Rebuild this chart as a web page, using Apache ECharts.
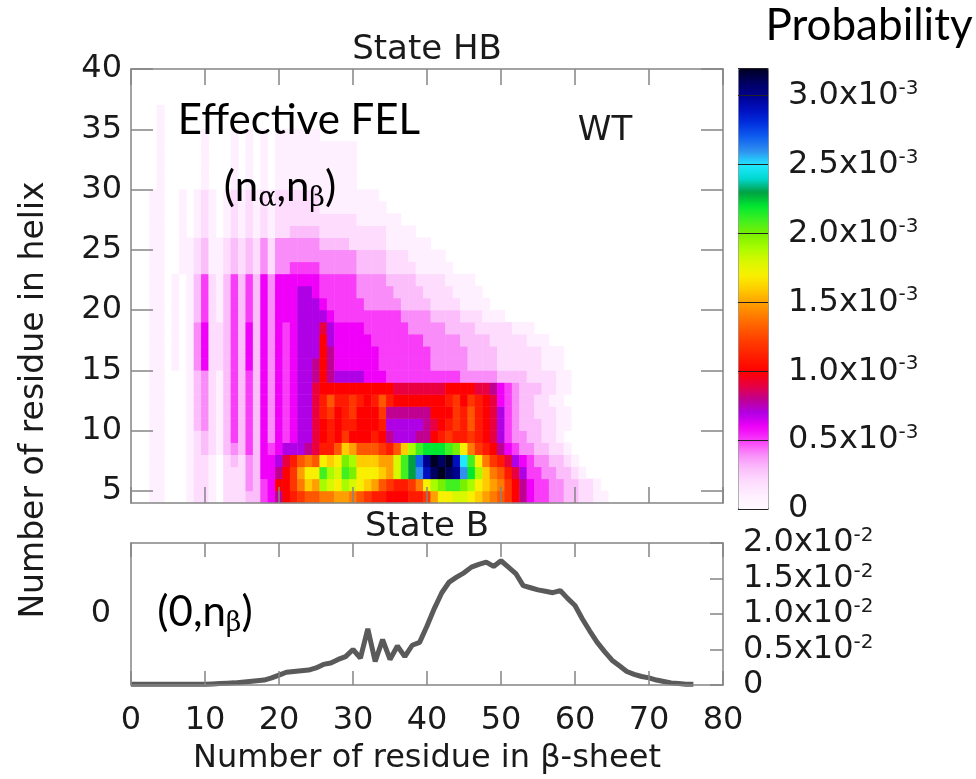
<!DOCTYPE html>
<html><head><meta charset="utf-8">
<script src="https://cdn.jsdelivr.net/npm/echarts@6/dist/echarts.min.js"></script>
<style>html,body{margin:0;padding:0;background:#fff}#c{width:976px;height:779px}</style>
</head><body><div id="c"></div>
<script>
// ---------- tick labels ----------
const betaTicks = [0, 10, 20, 30, 40, 50, 60, 70, 80];
const helixTicks = [5, 10, 15, 20, 25, 30, 35, 40];
const stateBTicks = [0];               // left label of the State B panel (n_alpha = 0)
// ---------- State HB: probability (units of 1e-4), one array per helix row, index = n_beta ----------
const helix04 = [0,0,0,1,1,0,0,0,1,2,2,1,0,2,2,2,3,3,5,6,8,10,11,12,13,13,14,14,15,15,14,13,12,11,11,10,10,10,11,11,12,15,17,17,18,18,17,16,15,14,13,12,10,8,6,5,5,4,4,3,3,2,2,1,1];
const helix05 = [0,0,0,1,1,0,0,0,1,2,2,1,0,2,2,2,4,3,5,6,10,10,12,14,16,15,19,18,17,19,18,17,16,15,13,12,11,11,12,14,17,19,20,21,21,20,19,17,16,15,14,12,10,8,6,5,5,4,4,3,3,2,2,1];
const helix06 = [0,0,0,1,1,0,0,0,1,2,2,1,0,2,2,2,4,3,6,6,8,10,12,15,17,17,21,19,18,21,20,17,17,17,16,15,18,21,23,26,29,31,32,31,30,26,22,19,16,14,13,11,9,7,5,5,4,4,3,3,2,1];
const helix07 = [0,0,0,1,1,0,0,0,1,2,2,1,0,2,3,2,4,3,6,6,7,9,11,13,14,13,17,16,17,20,19,16,16,16,15,15,18,21,23,27,30,32,31,32,29,25,21,17,14,12,11,9,7,6,5,4,4,3,3,2,1];
const helix08 = [0,0,0,1,1,0,0,0,1,2,3,2,1,3,4,3,5,3,6,5,6,7,7,7,8,9,11,11,13,16,15,13,13,13,12,11,13,16,19,21,22,22,22,21,20,17,14,12,11,10,8,6,5,4,4,3,3,2,2,1];
const helix09 = [0,0,0,1,1,0,0,0,1,2,3,2,1,3,5,3,5,3,6,4,6,5,6,7,7,9,10,11,10,12,10,10,10,11,10,8,7,7,7,8,8,10,11,12,11,11,12,11,10,9,7,5,4,4,3,3,2,2,1];
const helix10 = [0,0,0,1,1,0,0,0,1,3,4,2,1,3,5,3,5,3,6,4,6,5,6,7,7,9,10,11,10,11,11,10,10,10,11,7,7,7,7,7,8,9,10,11,12,11,13,11,10,9,7,5,4,3,3,3,2,2,1,1];
const helix11 = [0,0,0,1,1,0,0,0,1,3,4,2,1,3,5,3,5,3,6,4,6,5,6,7,7,9,11,12,10,11,12,10,10,10,12,8,8,8,8,8,8,10,10,10,12,11,13,11,10,9,7,5,4,3,3,2,2,2,1,1];
const helix12 = [0,0,0,1,1,0,0,0,1,3,4,2,1,3,5,3,5,3,6,4,6,5,6,7,7,9,11,13,11,11,12,11,10,11,13,11,10,10,10,10,10,10,10,11,12,10,12,11,10,9,6,5,4,3,3,2,2,1,1];
const helix13 = [0,0,0,1,1,0,0,0,1,3,4,2,1,3,5,3,5,3,6,4,6,5,6,7,7,9,10,10,10,10,10,10,10,10,10,10,9,9,9,9,9,9,9,10,10,10,10,9,9,8,6,5,4,3,3,3,2,2,1,1];
const helix14 = [0,0,0,1,1,0,0,0,1,3,4,2,1,3,5,3,5,3,6,4,6,5,6,7,7,8,10,8,7,7,7,7,6,6,6,5,5,5,5,5,5,5,5,5,5,4,4,4,4,4,3,3,3,3,2,2,2,2,1,1];
const helix15 = [0,0,0,1,1,0,1,0,1,4,6,2,2,3,5,3,6,3,6,4,6,5,6,7,7,8,10,8,6,6,6,6,6,6,5,5,5,5,5,5,5,4,4,4,4,4,3,3,3,3,2,2,2,2,2,2,1,1,1];
const helix16 = [0,0,0,1,1,0,1,0,1,4,6,2,2,3,5,3,6,3,6,4,6,5,6,7,7,7,10,8,6,6,6,6,6,6,5,5,5,5,5,5,5,4,4,4,4,4,3,3,3,3,2,2,2,2,2,2,1,1,1];
const helix17 = [0,0,0,1,1,0,1,0,1,4,6,2,2,3,5,3,6,3,6,4,6,5,6,7,7,7,10,7,6,6,6,6,6,5,5,5,5,5,5,5,4,4,4,4,4,3,3,3,3,2,2,2,2,2,1,1,1];
const helix18 = [0,0,0,1,1,0,1,0,1,4,6,2,2,3,5,3,6,3,6,4,6,5,6,7,7,7,9,7,6,6,6,6,5,5,5,5,5,5,4,4,4,4,4,3,3,3,3,2,2,2,2,2,1,1,1];
const helix19 = [0,0,0,1,1,0,1,0,1,3,5,2,1,3,5,3,5,3,6,4,6,6,6,7,7,7,7,6,5,5,5,5,5,5,5,5,5,4,4,4,4,3,3,3,3,2,2,2,1,1,1];
const helix20 = [0,0,0,1,1,0,1,0,1,3,5,2,1,3,5,3,5,3,6,4,6,6,6,7,7,7,6,5,5,5,5,5,4,4,4,4,4,3,3,3,3,2,2,2,2,1,1,1,1];
const helix21 = [0,0,0,1,1,0,1,0,1,3,5,2,1,3,5,3,5,3,6,4,6,6,6,7,7,6,5,5,5,5,5,4,4,4,4,4,3,3,3,3,2,2,2,2,1,1,1,1];
const helix22 = [0,0,0,1,1,0,1,0,1,3,5,2,1,3,5,3,5,3,6,4,6,6,6,6,6,6,5,5,5,5,5,4,4,4,4,3,3,3,3,2,2,2,2,1,1,1,1];
const helix23 = [0,0,0,1,1,0,0,1,1,2,3,1,1,2,3,2,3,2,4,2,4,4,5,5,5,5,4,4,4,4,4,3,3,3,3,2,2,2,2,1,1,1,1,1];
const helix24 = [0,0,0,1,1,0,0,1,1,2,3,1,1,2,3,2,3,2,4,2,4,4,4,4,4,4,4,4,4,4,4,3,3,3,3,2,2,2,1,1,1,1,1];
const helix25 = [0,0,0,1,1,0,0,1,1,2,3,1,1,2,3,2,3,2,4,2,4,4,4,4,4,4,3,3,3,3,2,2,2,2,2,1,1,1,1,1,1];
const helix26 = [0,0,0,1,1,0,0,1,0,1,2,1,0,1,2,1,2,1,2,1,2,2,3,3,3,3,2,2,2,2,2,2,2,2,2,1,1,1,1];
const helix27 = [0,0,0,1,1,0,0,1,0,1,2,1,0,1,2,1,2,1,2,1,2,2,2,2,2,2,2,2,2,2,2,1,1,1,1,1,1];
const helix28 = [0,0,0,1,1,0,0,1,0,1,2,1,0,1,2,1,2,1,2,1,2,2,2,2,2,2,1,1,1,1,1,1,1,1,1];
const helix29 = [0,0,0,1,1,0,0,1,0,1,2,1,0,1,2,1,2,1,2,1,2,2,2,2,2,2,1,1,1,1,1,1,1,1];
const helix30 = [0,0,0,0,1,0,0,0,0,0,1,0,0,0,1,0,1,0,1,0,1,1,1,1,1,1,1,1,1,1,1];
const helix31 = [0,0,0,0,1,0,0,0,0,0,1,0,0,0,1,0,1,0,1,0,1,1,1,1,1,1,1,1,1,1,1];
const helix32 = [0,0,0,0,1,0,0,0,0,0,1,0,0,0,1,0,1,0,1,0,1,1,1,1,1,1,1,1,1,1,1];
const helix33 = [0,0,0,0,1,0,0,0,0,0,1,0,0,0,1,0,1,0,1,0,1,1,1,1,1,1,1,1,1,1,1];
const helix34 = [0,0,0,0,1,0,0,0,0,0,1,0,0,0,1,0,1,0,1,0,1,1,1,1,1,1];
const helix35 = [0,0,0,0,1];
const helix36 = [0,0,0,0,1];
const helix37 = [];
const helix38 = [];
const helix39 = [];
// ---------- State B: probability (units of 1e-2), index = n_beta 0..76 ----------
const stateBProb = [0.01,0.01,0.01,0.01,0.01,0.01,0.01,0.01,0.01,0.01,
  0.01,0.015,0.02,0.025,0.03,0.04,0.05,0.06,0.07,0.10,
  0.14,0.18,0.19,0.20,0.21,0.24,0.29,0.31,0.36,0.40,
  0.50,0.38,0.79,0.33,0.64,0.36,0.55,0.40,0.56,0.60,
  0.83,1.08,1.30,1.45,1.52,1.58,1.66,1.70,1.73,1.67,
  1.75,1.66,1.57,1.40,1.37,1.34,1.32,1.30,1.33,1.22,
  1.12,0.93,0.76,0.60,0.47,0.35,0.27,0.19,0.15,0.12,
  0.10,0.07,0.05,0.03,0.02,0.01,0.01];

// ---------- build ----------
const helixRows = [helix04,helix05,helix06,helix07,helix08,helix09,helix10,helix11,helix12,helix13,helix14,helix15,
  helix16,helix17,helix18,helix19,helix20,helix21,helix22,helix23,helix24,helix25,helix26,helix27,helix28,helix29,
  helix30,helix31,helix32,helix33,helix34,helix35,helix36,helix37,helix38,helix39];
const betaCats = []; for (let i = 0; i <= 80; i++) betaCats.push(String(i));
const helixCats = helixRows.map((r, j) => String(4 + j));
const heatData = [];
helixRows.forEach((row, j) => row.forEach((v, i) => { if (v > 0) heatData.push([i, j, v]); }));
const lineData = stateBProb.map((v, i) => [i, v]);

const palette = ['#fffaff','#fff0ff','#fddcfd','#fbbefb','#f98cf9','#f83cf8','#f000f8','#b000e6','#c00090','#e80040',
  '#ff0000','#ff1a00','#ff3600','#ff5600','#ff7a00','#ffa000','#ffcc00','#f8f000','#d8f800','#a8fc00',
  '#78f000','#40f020','#00e830','#00a040','#00d8d0','#20e8ff','#3090f0','#1060f0','#0030e0','#0010c0',
  '#000090','#000060','#000020'];

const AX = '#858585', TXT = '#1a1a1a', GNU = 'DejaVu Sans', CAL = 'Lato';
function frameX(grid, pos, len, extra) {
  return Object.assign({gridIndex: grid, type: 'value', min: 0, max: 80, interval: 10, position: pos, z: 5,
    axisLine: {onZero: false, lineStyle: {color: AX, width: 1.5}},
    axisTick: {inside: true, length: len, lineStyle: {color: AX, width: 1.5}},
    axisLabel: {show: false}, splitLine: {show: false}}, extra || {});
}
const supFmt = (exp) => (v) => v === 0 ? '{m|0}' : '{m|' + v.toFixed(1) + 'x10}{s|' + exp + '}';
const supRich = {m: {fontSize: 32, fontFamily: GNU, color: TXT, lineHeight: 34},
                 s: {fontSize: 20, fontFamily: GNU, color: TXT, lineHeight: 20, verticalAlign: 'top'}};
const subRich = {n: {fontSize: 42, fontFamily: CAL, fill: '#000', lineHeight: 50},
                 a: {fontSize: 27, fontFamily: 'DejaVu Serif', fill: '#000', lineHeight: 27, verticalAlign: 'bottom'}};

const chart = echarts.init(document.getElementById('c'));
chart.setOption({
  backgroundColor: '#fff',
  animation: false,
  textStyle: {fontFamily: GNU},
  grid: [
    {left: 131, top: 69, width: 592, height: 434},
    {left: 127.3, top: 69, width: 599.4, height: 434},
    {left: 131, top: 543, width: 592, height: 142},
    {left: 738, top: 68, width: 30, height: 441}
  ],
  xAxis: [
    frameX(0, 'bottom', 16),
    frameX(0, 'top', 16),
    {gridIndex: 1, type: 'category', data: betaCats, show: false},
    frameX(2, 'bottom', 14, {
      axisLabel: {show: true, customValues: betaTicks, fontSize: 32, fontFamily: GNU, color: TXT, margin: 20},
      name: 'Number of residue in β-sheet', nameLocation: 'middle', nameGap: 58,
      nameTextStyle: {fontSize: 32, fontFamily: GNU, color: TXT}}),
    frameX(2, 'top', 14),
    {gridIndex: 3, type: 'value', show: false}
  ],
  yAxis: [
    {gridIndex: 0, type: 'value', min: 4, max: 40, position: 'left', z: 5,
      axisLine: {onZero: false, lineStyle: {color: AX, width: 1.5}},
      axisTick: {inside: true, length: 22, customValues: helixTicks, lineStyle: {color: AX, width: 1.5}},
      axisLabel: {customValues: helixTicks, fontSize: 32, fontFamily: GNU, color: TXT, margin: 9},
      splitLine: {show: false}},
    {gridIndex: 0, type: 'value', min: 4, max: 40, position: 'right', z: 5,
      axisLine: {onZero: false, lineStyle: {color: AX, width: 1.5}},
      axisTick: {inside: true, length: 22, customValues: helixTicks, lineStyle: {color: AX, width: 1.5}},
      axisLabel: {show: false}, splitLine: {show: false}},
    {gridIndex: 1, type: 'category', data: helixCats, show: false},
    {gridIndex: 2, type: 'value', min: 0, max: 2, interval: 0.5, position: 'right', z: 5,
      axisLine: {onZero: false, lineStyle: {color: AX, width: 1.5}},
      axisTick: {inside: true, length: 13, lineStyle: {color: AX, width: 1.5}},
      axisLabel: {formatter: supFmt('-2'), rich: supRich, margin: 20},
      splitLine: {show: false}},
    {gridIndex: 2, type: 'value', min: -1, max: 1, position: 'left', z: 5,
      axisLine: {onZero: false, lineStyle: {color: AX, width: 1.5}},
      axisTick: {show: false},
      axisLabel: {customValues: stateBTicks, fontSize: 32, fontFamily: GNU, color: TXT, margin: 20},
      splitLine: {show: false}},
    {gridIndex: 3, type: 'value', min: 0, max: 32, interval: 5, position: 'right', z: 10,
      axisLine: {show: false}, axisTick: {show: false},
      axisLabel: {formatter: (v) => supFmt('-3')(v / 10), rich: supRich, margin: 20},
      splitLine: {show: true, lineStyle: {color: '#222', width: 1}}}
  ],
  visualMap: {
    type: 'continuous', seriesIndex: 0, min: 0, max: 32, calculable: false, hoverLink: false,
    left: 738, top: 68, itemWidth: 30, itemHeight: 441, padding: 0,
    borderColor: '#888', borderWidth: 1,
    inRange: {color: palette}
  },
  series: [
    {type: 'heatmap', xAxisIndex: 2, yAxisIndex: 2, data: heatData, progressive: 0,
      emphasis: {disabled: true}},
    {type: 'line', xAxisIndex: 3, yAxisIndex: 3, data: lineData, showSymbol: false, z: 3,
      lineStyle: {color: '#5a5a5a', width: 5}}
  ],
  graphic: [
    {type: 'text', z: 100, x: 427, y: 50, style: {text: 'State HB', fontSize: 34, fontFamily: GNU, fill: TXT, align: 'center', verticalAlign: 'middle'}},
    {type: 'text', z: 100, x: 427, y: 527, style: {text: 'State B', fontSize: 34, fontFamily: GNU, fill: TXT, align: 'center', verticalAlign: 'middle'}},
    {type: 'text', z: 100, x: 605, y: 131, style: {text: 'WT', fontSize: 34, fontFamily: GNU, fill: TXT, align: 'center', verticalAlign: 'middle'}},
    {type: 'text', z: 100, x: 34, y: 400, rotation: Math.PI / 2, style: {text: 'Number of residue in helix', fontSize: 33, fontFamily: GNU, fill: TXT, align: 'center', verticalAlign: 'middle'}},
    {type: 'text', z: 100, x: 299, y: 120, style: {text: 'Effective FEL', fontSize: 42, fontFamily: CAL, fill: '#000', align: 'center', verticalAlign: 'middle'}},
    {type: 'text', z: 100, x: 280, y: 187, style: {text: '{n|(n}{a|α}{n|,n}{a|β}{n|)}', align: 'center', verticalAlign: 'middle', rich: subRich}},
    {type: 'text', z: 100, x: 205, y: 612, style: {text: '{n|(0,n}{a|β}{n|)}', align: 'center', verticalAlign: 'middle', rich: subRich}},
    {type: 'text', z: 100, x: 869, y: 26, style: {text: 'Probability', fontSize: 44, fontFamily: CAL, fill: '#000', align: 'center', verticalAlign: 'middle'}}
  ]
});
</script>
</body></html>
